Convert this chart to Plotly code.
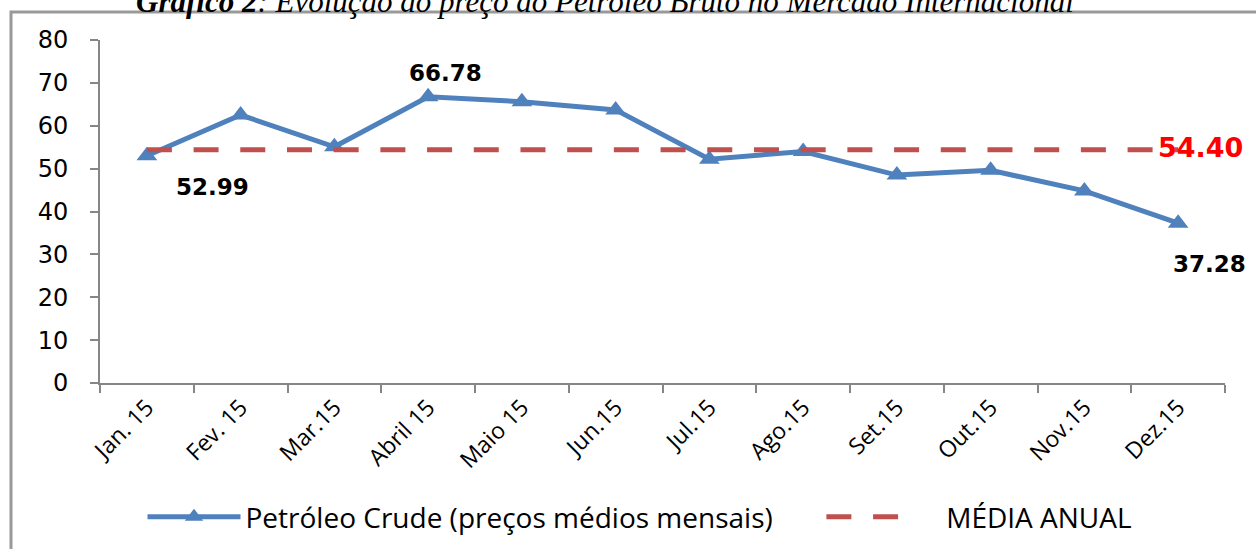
import plotly.graph_objects as go

categories = ["Jan. 15", "Fev. 15", "Mar.15", "Abril 15", "Maio 15", "Jun.15",
              "Jul.15", "Ago.15", "Set.15", "Out.15", "Nov.15", "Dez.15"]
precos = [52.99, 62.5, 55.1, 66.78, 65.6, 63.7, 52.2, 54.0, 48.5, 49.6, 44.8, 37.28]
media_anual = 54.40
y_ticks = [0, 10, 20, 30, 40, 50, 60, 70, 80]

# plot area in pixels: x 100..1225, y 40..383
L, R, T, B = 100, 31, 40, 166
W, H = 1256, 549
pw, ph = W - L - R, H - T - B


def px_x(p):
    return (p - L) / pw


def px_y(p):
    return (H - B - p) / ph


fig = go.Figure()

fig.add_trace(go.Scatter(
    x=categories, y=precos, mode="lines+markers",
    name="Petróleo Crude (preços médios mensais)" + "\u00a0" * 6,
    line=dict(color="#4F81BD", width=5),
    marker=dict(symbol="triangle-up", size=18, color="#4F81BD"),
    cliponaxis=False,
))

fig.add_trace(go.Scatter(
    x=categories, y=[media_anual] * len(categories), mode="lines",
    name="\u00a0\u00a0\u00a0MÉDIA ANUAL",
    line=dict(color="#C0504D", width=5, dash="25px,21.7px"),
    cliponaxis=False,
))

lab_font = dict(family="DejaVu Sans", size=23, color="black")
annotations = [
    dict(x=categories[0], y=precos[0], text="<b>%.2f</b>" % precos[0],
         xanchor="left", yanchor="middle", xshift=27, yshift=-31,
         showarrow=False, font=lab_font),
    dict(x=categories[3], y=precos[3], text="<b>%.2f</b>" % precos[3],
         xanchor="center", yanchor="middle", xshift=17, yshift=24,
         showarrow=False, font=lab_font),
    dict(x=categories[11], y=precos[11], text="<b>%.2f</b>" % precos[11],
         xanchor="left", yanchor="middle", xshift=-7, yshift=-41,
         showarrow=False, font=lab_font),
    dict(x=categories[11], y=media_anual, text="<b>%.2f</b>" % media_anual,
         xanchor="left", yanchor="middle", xshift=-22, yshift=2,
         showarrow=False, font=dict(family="DejaVu Sans", size=27, color="#FF0000")),
    dict(xref="paper", yref="paper", x=px_x(605), y=px_y(21),
         xanchor="center", yanchor="bottom", showarrow=False,
         text="<b><i>Gráfico 2</i></b><i>: Evolução do preço do Petróleo Bruto no Mercado Internacional</i>",
         font=dict(family="Liberation Serif", size=31, color="black")),
]

shapes = [
    dict(type="rect", xref="paper", yref="paper",
         x0=px_x(11), x1=px_x(1300), y0=px_y(12), y1=px_y(600),
         line=dict(color="#999999", width=3), fillcolor="rgba(0,0,0,0)", layer="below"),
]

fig.update_layout(
    width=W, height=H,
    margin=dict(l=L, r=R, t=T, b=B, autoexpand=False),
    paper_bgcolor="white", plot_bgcolor="white",
    showlegend=True,
    legend=dict(orientation="h", x=px_x(640), xanchor="center",
                y=px_y(517), yanchor="middle",
                font=dict(family="Open Sans", size=28, color="black"),
                itemwidth=93, bgcolor="rgba(0,0,0,0)"),
    annotations=annotations,
    shapes=shapes,
)

fig.update_xaxes(
    type="category", categoryorder="array", categoryarray=categories,
    range=[-0.5, len(categories) - 0.5],
    automargin=False,
    showline=True, linecolor="#868686", linewidth=2,
    ticks="outside", ticklen=8, tickcolor="#868686", tickwidth=2,
    tickson="boundaries", showgrid=False, zeroline=False,
    tickangle=-45, tickfont=dict(family="Open Sans", size=23, color="black"),
)

fig.update_yaxes(
    range=[0, 80], tickvals=y_ticks, automargin=False,
    showline=True, linecolor="#868686", linewidth=2,
    ticks="outside", ticklen=8, tickcolor="#868686", tickwidth=2,
    showgrid=False, zeroline=False, ticklabelstandoff=17,
    tickfont=dict(family="DejaVu Sans", size=24, color="black"),
)

fig.write_html("out.html", config={"displayModeBar": False},
               post_script="document.body.style.margin='0';")
